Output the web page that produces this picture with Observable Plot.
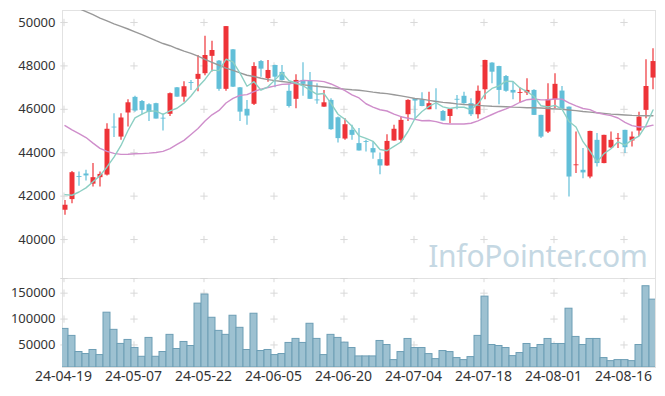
<!DOCTYPE html>
<html><head><meta charset="utf-8">
<script src="https://cdn.jsdelivr.net/npm/d3@7"></script>
<script src="https://cdn.jsdelivr.net/npm/@observablehq/plot@0.6"></script>
<style>
html,body{margin:0;padding:0;background:#fff;}
#chart{width:665px;height:396px;overflow:hidden;}
#chart svg{display:block;}
</style>
</head><body><div id="chart"></div>
<script>
// ---- data ----
const dates = [
 "24-04-19","24-04-22","24-04-23","24-04-24","24-04-25","24-04-26","24-04-29","24-04-30",
 "24-05-02","24-05-03","24-05-07","24-05-08","24-05-09","24-05-10","24-05-13","24-05-14","24-05-16","24-05-17",
 "24-05-20","24-05-21","24-05-22","24-05-23","24-05-24","24-05-27","24-05-28","24-05-29","24-05-30","24-05-31",
 "24-06-03","24-06-04","24-06-05","24-06-07","24-06-10","24-06-11","24-06-12","24-06-13","24-06-14",
 "24-06-17","24-06-18","24-06-19","24-06-20","24-06-21","24-06-24","24-06-25","24-06-26","24-06-27","24-06-28",
 "24-07-01","24-07-02","24-07-03","24-07-04","24-07-05","24-07-08","24-07-09","24-07-10","24-07-11","24-07-12",
 "24-07-15","24-07-16","24-07-17","24-07-18","24-07-19","24-07-22","24-07-23","24-07-24","24-07-25","24-07-26",
 "24-07-29","24-07-30","24-07-31","24-08-01","24-08-02","24-08-05","24-08-06","24-08-07","24-08-08","24-08-09",
 "24-08-12","24-08-13","24-08-14","24-08-16","24-08-19","24-08-20","24-08-21","24-08-22"
];
const open = [41350,41840,42900,43020,42550,42850,42970,45180,44720,45830,
 46550,46360,46210,46260,45590,45770,46990,46560,47230,47380,
 47640,48440,48220,46920,48740,46990,46000,46230,48200,47410,
 48020,47700,46830,46460,47330,47300,46430,46100,46410,45610,
 44630,45030,44420,44510,44190,43680,43390,44540,44570,45750,
 46490,46440,45980,46370,45900,45670,46460,46600,46260,45750,
 46900,48130,47970,47510,46870,46730,46750,46870,45720,44950,
 46440,46840,46100,43400,43190,42880,44570,43500,44220,44620,
 45030,44540,45000,45950,47440];
const high = [41800,43130,43110,43190,43500,43110,45340,45800,45800,46440,
 46600,46410,46260,46280,45800,46750,47000,47270,47330,48480,
 49360,49130,48250,49820,48750,47000,46410,48140,48250,48250,
 48030,48020,47150,47590,48140,47700,47180,46870,46490,45640,
 45570,45260,45110,44570,44490,43990,44830,45260,45670,46440,
 46500,46760,46790,46950,45950,46000,46640,46790,46490,47070,
 48260,48140,47980,47560,47250,46980,47410,46900,45730,47180,
 47640,47050,46110,44950,44190,44990,44880,44810,44950,44880,
 45040,44950,45870,48280,48790];
const low = [41120,41650,42450,42700,42420,42420,42930,44700,44570,45180,
 45870,45750,45440,45550,45000,45670,46550,46330,46870,46810,
 47550,47720,46830,46830,47000,45440,45260,46180,47480,47250,
 46990,47300,46060,46030,46600,46450,46230,46100,45030,44450,
 44570,44570,44080,44030,43700,42990,43380,44530,44460,45440,
 45520,46120,45980,45980,45450,45340,45980,46230,45670,45550,
 46440,47180,46210,46790,46440,46290,46640,45710,44650,44880,
 46030,46000,41960,43040,42800,42800,43340,43490,44190,44190,
 43960,44260,44750,45570,46900];
const close = [41580,43080,42860,42930,42850,43000,45080,45140,45600,46300,
 45920,45950,45860,45550,45550,46720,46560,47040,47190,47610,
 48480,48710,46920,49810,47020,45870,45690,47970,47850,47790,
 47480,47330,46130,47330,47150,46460,46390,46300,45060,44650,
 45290,44800,44080,44470,43990,43390,44520,45080,45490,46410,
 46380,46130,46260,46330,45460,46000,46420,46260,45750,46830,
 48250,47710,46870,46830,46750,46770,46870,45720,44720,46440,
 47150,46000,42880,43440,43070,44980,43500,44800,44570,44660,
 44230,44720,45640,47050,48200];
const volume = [81000,67500,36400,32500,40300,30500,112300,79200,52000,59700,
 44200,27200,63600,27200,36400,69500,42200,55800,48000,129800,
 147300,102500,77200,69500,106400,83100,40300,110300,38300,40300,
 30500,32500,53900,61700,53900,90900,61700,30500,69500,63600,
 54500,44100,27900,27900,27900,57700,49900,20800,36300,61600,
 44100,44100,32400,22700,38300,36300,24700,20800,26600,67500,
 143300,49900,48000,44100,28500,34400,51900,44100,49900,61600,
 51900,51900,120000,65500,49900,61600,61600,24700,18800,20800,
 20800,18800,49900,163400,137500];
// moving-average values before enough in-window closes exist
const ma5Head = [42070,42040,42190,42380];
const ma20Head = [45250,45050,44880,44700,44440,44200,44060,43970,43925,43930,
 43950,43960,43980,44010,44060,44190,44380,44570,44840];
// long moving average (grey)
const maLong = [50930,50790,50640,50500,50360,50200,50070,49940,49820,49700,
 49570,49440,49300,49160,49030,48930,48800,48680,48580,48450,
 48300,48160,48030,47900,47790,47680,47570,47510,47430,47370,
 47320,47280,47240,47170,47130,47090,47060,47030,46990,46960,
 46930,46900,46880,46840,46790,46750,46720,46670,46620,46560,
 46500,46470,46410,46360,46320,46290,46250,46220,46210,46180,
 46160,46140,46130,46120,46100,46090,46070,46070,46060,46040,
 46020,46000,45970,45940,45900,45870,45840,45810,45780,45760,
 45740,45720,45710,45700,45700];
const xTickDates = ["24-04-19","24-05-07","24-05-22","24-06-05","24-06-20","24-07-04","24-07-18","24-08-01","24-08-16"];
const priceTicks = [40000,42000,44000,46000,48000,50000];
const volumeTicks = [50000,100000,150000];
const watermark = ["InfoPointer.com"];

// ---- build ----
const RED = "#ee3338", BLUE = "#62bfd8";
const idx = d3.range(dates.length);
const ma5 = idx.map(i => i < 4 ? ma5Head[i] : d3.mean(close.slice(i - 4, i + 1)));
const ma20 = idx.map(i => i < 19 ? ma20Head[i] : d3.mean(close.slice(i - 19, i + 1)));
const candles = idx.map(i => ({i, o: open[i], h: high[i], l: low[i], c: close[i], up: close[i] >= open[i]}));
const upC = candles.filter(d => d.up), dnC = candles.filter(d => !d.up);
const tickIdx = xTickDates.map(d => dates.indexOf(d));
const xDomain = [-0.357, dates.length - 1 + 0.357];
const gridCol = "#d9d9d9";
const fmt = d => String(d);

const price = Plot.plot({
  width: 665, height: 278,
  marginLeft: 62, marginRight: 10, marginTop: 10, marginBottom: 0,
  style: {fontFamily: "'Noto Sans', sans-serif", fontSize: "13px", color: "#333", background: "#fff"},
  x: {type: "linear", domain: xDomain, axis: null},
  y: {domain: [38205, 50552], ticks: priceTicks, tickSize: 0, tickPadding: 7, tickFormat: fmt, label: null},
  marks: [
    Plot.frame({stroke: "#e2e2e2"}),
    Plot.dot(d3.cross(tickIdx, priceTicks), {x: d => d[0], y: d => d[1], dx: -1, symbol: "plus", r: 2.5, stroke: gridCol, strokeWidth: 1}),
    Plot.text(watermark, {frameAnchor: "bottom-right", textAnchor: "end", lineAnchor: "bottom", dx: -8, dy: -12, fontSize: 30, fill: "#c5d8e3"}),
    Plot.ruleX(upC, {x: "i", y1: "l", y2: "h", stroke: RED, strokeWidth: 1.2}),
    Plot.ruleX(dnC, {x: "i", y1: "l", y2: "h", stroke: BLUE, strokeWidth: 1.2}),
    Plot.ruleX(upC, {x: "i", y1: "o", y2: "c", stroke: RED, strokeWidth: 5}),
    Plot.ruleX(dnC, {x: "i", y1: "o", y2: "c", stroke: BLUE, strokeWidth: 5}),
    Plot.line(idx, {x: i => i, y: i => maLong[i], stroke: "#999", strokeWidth: 1.4, clip: true}),
    Plot.line(idx, {x: i => i, y: i => ma20[i], stroke: "#cf8ecb", strokeWidth: 1.4, clip: true}),
    Plot.line(idx, {x: i => i, y: i => ma5[i], stroke: "#8ccfc3", strokeWidth: 1.4, clip: true})
  ]
});

const vol = Plot.plot({
  width: 665, height: 118,
  marginLeft: 62, marginRight: 10, marginTop: 0, marginBottom: 29,
  style: {fontFamily: "'Noto Sans', sans-serif", fontSize: "13px", color: "#333", background: "#fff"},
  x: {type: "linear", domain: xDomain, ticks: tickIdx, tickSize: 0, tickPadding: 4, tickFormat: i => dates[i], label: null},
  y: {domain: [6500, 178300], ticks: volumeTicks, tickSize: 0, tickPadding: 7, tickFormat: fmt, label: null},
  marks: [
    Plot.frame({stroke: "#e2e2e2"}),
    Plot.dot(d3.cross(tickIdx, volumeTicks.concat([178300])), {x: d => d[0], y: d => d[1], dx: -1, symbol: "plus", r: 2.5, stroke: gridCol, strokeWidth: 1}),
    Plot.rect(idx, {x1: i => i - 0.5, x2: i => i + 0.5, y1: 6500, y2: i => volume[i], fill: "#9dc1d1", stroke: "#6d9eb5", strokeWidth: 1, clip: true})
  ]
});

const root = document.getElementById("chart");
root.appendChild(price);
root.appendChild(vol);
price.querySelectorAll("text").forEach(t => {
  if (t.textContent === watermark[0]) t.style.letterSpacing = "-0.3px";
});
vol.querySelectorAll("text").forEach(t => {
  if (/^\d\d-\d\d-\d\d$/.test(t.textContent)) { t.style.fontSize = "14px"; t.setAttribute("dx", "-1.5"); }
});
</script>
</body></html>
